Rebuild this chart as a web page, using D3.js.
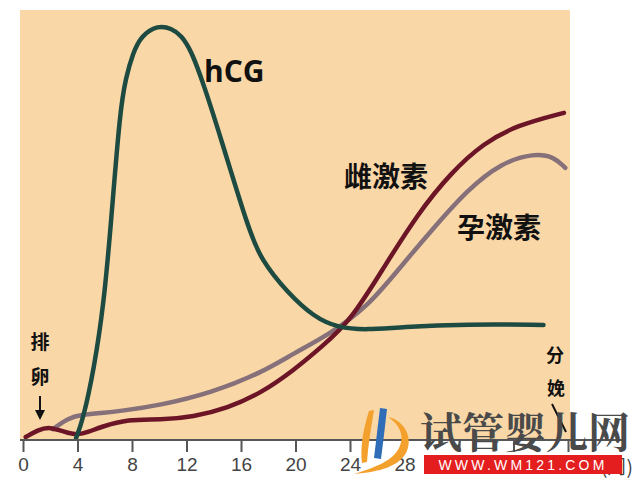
<!DOCTYPE html>
<html><head><meta charset="utf-8">
<script src="https://cdn.jsdelivr.net/npm/d3@7"></script>
<style>
html,body{margin:0;padding:0;background:#fff;}
svg{display:block;}
</style></head>
<body>
<svg id="chart" width="640" height="480"></svg>
<script>
// ---- data (week, relative level 0-100) ----
const weekTicks = [0,4,8,12,16,20,24,28,32,36,40];
const unitLabel = "(周)";
const hcgWeeks   = [3.9,4.4,5.2,5.94,6.46,7.12,7.56,8.07,8.66,9.9,10.9,11.6,12.33,13.28,14.5,16.5,17.46,19.44,21.35,23.1,25.3,27.7,32.6,38.2];
const hcgValues  = [0.5,4.8,16.7,32.6,51.7,78.6,86.4,92.1,96.2,98.8,98.0,96.4,92.9,84.5,72.1,50.7,42.9,35,29.3,26.7,26.2,26.9,27.6,27.4];
const estWeeks   = [0.2,1.1,1.9,2.57,3.3,4.0,4.8,5.7,7.7,10.1,12.5,15.0,17.5,19.9,21.9,24.1,26.5,29.0,31.4,33.8,36.3,39.7];
const estValues  = [0.7,2.4,3.1,2.4,1.7,1.2,1.9,3.1,5,4.8,5.5,7.6,11.2,16.7,22.1,28.6,41.2,54,63.6,70.7,75,77.9];
const progWeeks  = [2.2,3.3,4.25,5.72,7.19,10.1,13.8,17.5,19.9,22.4,25.3,27.7,30.2,32.6,35.1,37.5,39.0,39.8];
const progValues = [2.6,5.2,6.0,6.4,6.9,8.3,11.2,16,20.7,25,31.7,41.2,50.7,59.5,66,68.3,67.4,64.8];
const seriesNames = ["hCG","雌激素","孕激素"];

const svg = d3.select("#chart");
const x = d3.scaleLinear().domain([0,40]).range([23,568]);
const y = d3.scaleLinear().domain([0,100]).range([440,20]);

// panel
svg.append("rect").attr("x",20).attr("y",10).attr("width",550).attr("height",430).attr("fill","#f9d7a6");

const line = d3.line().x(d=>x(d[0])).y(d=>y(d[1])).curve(d3.curveBasis);
const zip = (a,b)=>a.map((v,i)=>[v,b[i]]);

svg.append("path").datum(zip(progWeeks,progValues)).attr("d",line)
  .attr("fill","none").attr("stroke","#86707a").attr("stroke-width",4.5).attr("stroke-linecap","round");
svg.append("path").datum(zip(estWeeks,estValues)).attr("d",line)
  .attr("fill","none").attr("stroke","#6c1527").attr("stroke-width",4.5).attr("stroke-linecap","round");
svg.append("path").datum(zip(hcgWeeks,hcgValues)).attr("d",line)
  .attr("fill","none").attr("stroke","#1d4a41").attr("stroke-width",4.5).attr("stroke-linecap","round");

// axis
const axis = d3.axisBottom(x).tickValues(weekTicks).tickSize(12).tickPadding(6);
const gAx = svg.append("g").attr("transform","translate(0,440)").call(axis);
gAx.select(".domain").remove();
gAx.append("line").attr("x1",20).attr("x2",625).attr("y1",0).attr("y2",0).attr("stroke","#555").attr("stroke-width",2);
gAx.selectAll(".tick line").attr("stroke","#555").attr("stroke-width",2);
gAx.selectAll(".tick text").attr("fill","#444").attr("font-size",19).attr("font-family","Liberation Sans, Arial, sans-serif");
svg.append("text").attr("x",601).attr("y",474).attr("font-size",19).attr("fill","#444")
  .attr("font-family","Noto Sans CJK SC, sans-serif").text(unitLabel);

// series labels
const lab = (t,xx,yy,fs,fam)=>svg.append("text").attr("x",xx).attr("y",yy).attr("font-size",fs)
  .attr("font-weight","bold").attr("fill","#111").attr("font-family",fam).text(t);
lab(seriesNames[0],204,82,30,"Open Sans, sans-serif");
lab(seriesNames[1],344,187,28,"Noto Sans CJK SC, sans-serif");
lab(seriesNames[2],457,238,28,"Noto Sans CJK SC, sans-serif");

// annotations
const cjk = "Noto Sans CJK SC, sans-serif";
svg.append("text").attr("x",40).attr("y",349).attr("text-anchor","middle").attr("font-size",19).attr("font-weight","bold").attr("fill","#111").attr("font-family",cjk).text("排");
svg.append("text").attr("x",40).attr("y",384).attr("text-anchor","middle").attr("font-size",19).attr("font-weight","bold").attr("fill","#111").attr("font-family",cjk).text("卵");
svg.append("line").attr("x1",40).attr("x2",40).attr("y1",396).attr("y2",412).attr("stroke","#111").attr("stroke-width",2);
svg.append("path").attr("d","M35,410 L45,410 L40,420 Z").attr("fill","#111");
svg.append("text").attr("x",555).attr("y",362).attr("text-anchor","middle").attr("font-size",18).attr("font-weight","bold").attr("fill","#111").attr("font-family",cjk).text("分");
svg.append("text").attr("x",556).attr("y",395).attr("text-anchor","middle").attr("font-size",18).attr("font-weight","bold").attr("fill","#111").attr("font-family",cjk).text("娩");
svg.append("line").attr("x1",552).attr("x2",566).attr("y1",404).attr("y2",432).attr("stroke","#111").attr("stroke-width",2);

// watermark
const wm = svg.append("g");
wm.append("path").attr("d","M369,411 C363,430 360,448 362,463 L367,462 C368,446 371,428 374,410 Z").attr("fill","#f3a12c");
wm.append("path").attr("d","M380,408 L387,409 C385,426 383,444 381,459 L374,458 C376,441 378,425 380,408 Z").attr("fill","#2f6db8");
wm.append("path").attr("d","M388,417 C404,420 414,438 406,453 C399,466 380,472 354,474 C377,467 393,460 399,448 C405,436 400,425 388,417 Z").attr("fill","#f3a12c");
wm.append("text").attr("x",420).attr("y",448).attr("font-size",42).attr("font-weight","bold").attr("fill","#4a4a4a")
  .attr("font-family","Noto Serif CJK SC, Noto Sans CJK SC, serif").text("试管婴儿网");
wm.append("rect").attr("x",424).attr("y",455).attr("width",198).attr("height",19).attr("fill","#e41e1e");
wm.append("text").attr("x",523).attr("y",470).attr("text-anchor","middle").attr("font-size",14).attr("letter-spacing",3.2).attr("fill","#fff")
  .attr("font-family","Liberation Sans, Arial, sans-serif").text("WWW.WM121.COM");
</script>
</body></html>
